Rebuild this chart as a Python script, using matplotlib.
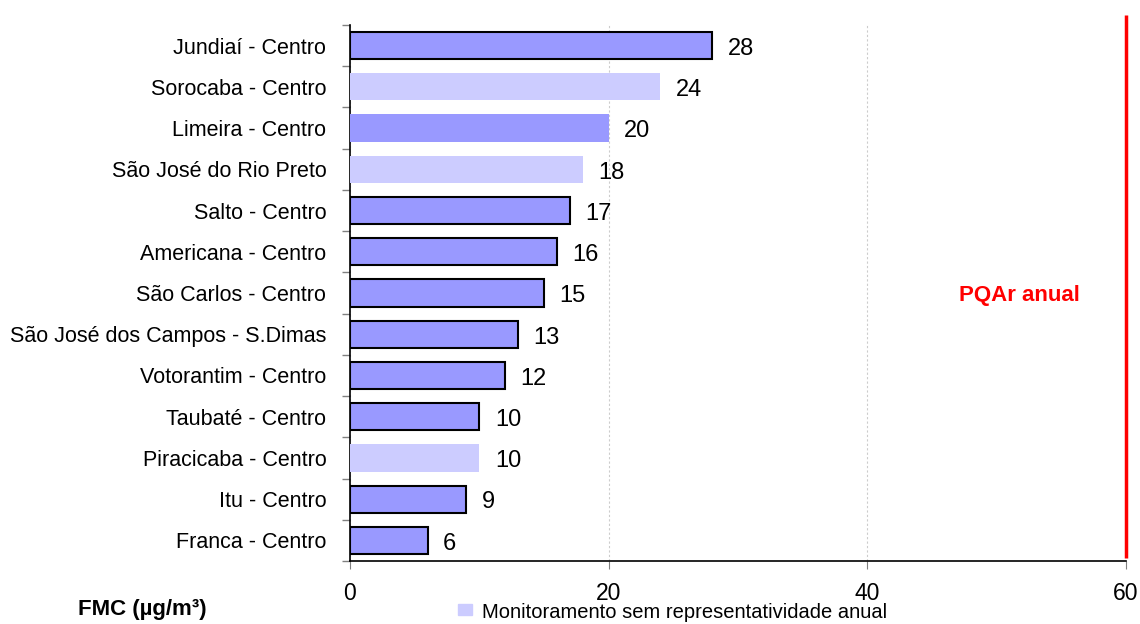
import numpy as np
import matplotlib
matplotlib.use("Agg")
import matplotlib.pyplot as plt
from matplotlib.patches import Rectangle

plt.rcParams['font.family'] = ['Liberation Sans', 'DejaVu Sans']

# data (top to bottom)
stations = ["Jundiaí - Centro", "Sorocaba - Centro", "Limeira - Centro",
            "São José do Rio Preto", "Salto - Centro", "Americana - Centro",
            "São Carlos - Centro", "São José dos Campos - S.Dimas",
            "Votorantim - Centro", "Taubaté - Centro", "Piracicaba - Centro",
            "Itu - Centro", "Franca - Centro"]
values = [28, 24, 20, 18, 17, 16, 15, 13, 12, 10, 10, 9, 6]
representative = [True, False, False, False, True, True, True, True,
                  True, True, False, True, True]
limit_pqar = 60

dark = '#9999FF'
light = '#CCCCFF'

fig = plt.figure(figsize=(11.4, 6.24), dpi=100)
ax = fig.add_axes([0.307, 0.101, 0.6807, 0.859])

y = np.arange(len(stations))[::-1]
for yi, v, rep, name in zip(y, values, representative, stations):
    if rep:
        ax.barh(yi, v, height=0.66, color=dark, edgecolor='black', linewidth=1.5, zorder=3)
    elif name == "Limeira - Centro":
        ax.barh(yi, v, height=0.66, color=dark, edgecolor='none', zorder=3)
    else:
        ax.barh(yi, v, height=0.66, color=light, edgecolor='none', zorder=3)
    ax.text(v + 1.2, yi - 0.02, f"{v}", va='center_baseline', ha='left', fontsize=17)

n = len(stations)
ax.set_xlim(0, 60)
ax.set_ylim(-0.5, n - 0.5)
ax.set_yticks(y)
ax.set_yticklabels(stations, fontsize=15.5, va='center_baseline')
ax.tick_params(axis='y', length=0, pad=17)
ax.set_yticks(np.arange(-0.5, n, 1), minor=True)
ax.tick_params(axis='y', which='minor', length=6, color='gray', width=1)
ax.set_xticks([0, 20, 40, 60])
ax.tick_params(axis='x', labelsize=16.5, length=6, color='gray', pad=9)
ax.grid(axis='x', linestyle=(0, (2, 2)), color='#cccccc', linewidth=0.8, zorder=0)

for s in ['top', 'right']:
    ax.spines[s].set_visible(False)
ax.spines['left'].set_linewidth(1.2)
ax.spines['bottom'].set_linewidth(1.2)

ax.plot([limit_pqar, limit_pqar], [-0.43, n - 0.26], color='red', linewidth=2.5,
        clip_on=False, zorder=4, solid_capstyle='butt')
ax.text(51.8, 6.0, "PQAr anual", color='red', fontsize=16, fontweight='bold',
        ha='center', va='center_baseline')

fig.text(78 / 1140, 1 - 609 / 624, "FMC (µg/m³)", fontsize=16, fontweight='bold',
         ha='left', va='center')
fig.patches.append(Rectangle((458 / 1140, 1 - 615 / 624), 14 / 1140, 11 / 624,
                             transform=fig.transFigure, color=light))
fig.text(482 / 1140, 1 - 612 / 624, "Monitoramento sem representatividade anual",
         fontsize=14.5, ha='left', va='center')

fig.savefig("out.png", dpi=100)
